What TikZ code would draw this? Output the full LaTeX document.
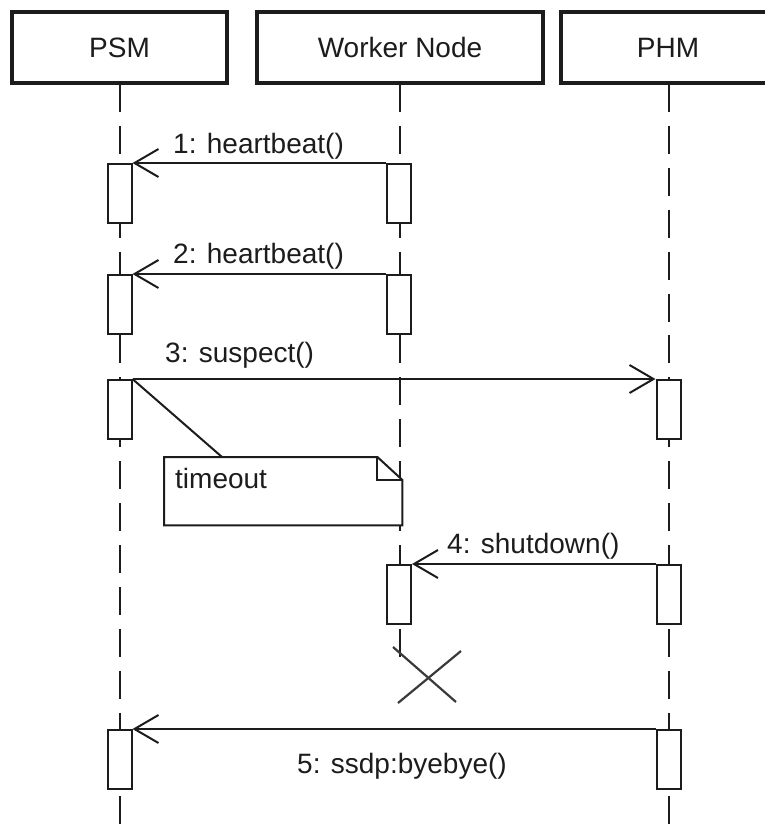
\documentclass[tikz,border=0pt]{standalone}
\usepackage{fontspec}
\setmainfont{Liberation Sans}
\usetikzlibrary{arrows.meta,calc}
\definecolor{ink}{HTML}{1C1C1C}
\definecolor{crossink}{HTML}{3A3A3A}
\begin{document}
\begin{tikzpicture}[x=1pt,y=-1pt,
  every node/.style={font=\fontsize{28}{34}\selectfont, text=ink},
  head/.style={draw=ink, line width=3.2pt, fill=white, minimum height=71pt, inner sep=0pt},
  life/.style={draw=ink, line width=2pt, dash pattern=on 28pt off 13.9pt},
  act/.style={draw=ink, line width=2pt, fill=white, minimum width=24pt, minimum height=59pt, inner sep=0pt, anchor=north},
  msg/.style={draw=ink, line width=2pt, -{Straight Barb[length=24pt,width=28pt]}},
  lbl/.style={anchor=base west, inner sep=0pt},
  notebox/.style={draw=ink, line width=2pt, fill=white},
  link/.style={draw=ink, line width=2pt},
  xmark/.style={draw=crossink, line width=2.2pt}]
\useasboundingbox (0,0) rectangle (764,825);

% lifelines
\draw[life] (119.5,84) -- (119.5,825);
\draw[life] (399.5,84) -- (399.5,657);
\draw[life] (668.5,84) -- (668.5,825);

% participants
\node[head, minimum width=215pt] (psm) at (119.5,47.5) {PSM};
\node[head, minimum width=286pt] (wn)  at (400,47.5)   {Worker Node};
\node[head, minimum width=214pt] (phm) at (668,47.5)   {PHM};

% activations
\node[act] (p1) at (119.5,163) {};
\node[act] (p2) at (119.5,274) {};
\node[act] (p3) at (119.5,379) {};
\node[act] (p4) at (119.5,729) {};
\node[act] (w1) at (399,163) {};
\node[act] (w2) at (399,274) {};
\node[act] (w3) at (399,564) {};
\node[act] (h1) at (668.5,379) {};
\node[act] (h2) at (668.5,564) {};
\node[act] (h3) at (668.5,729) {};

% note attached to the suspect call
\node[minimum width=238pt, minimum height=68pt, inner sep=0pt, anchor=north west] (note) at (164,457) {};
\draw[notebox] (note.north west) -- ([xshift=-25pt]note.north east)
  -- ([yshift=-23pt]note.north east) -- (note.south east) -- (note.south west) -- cycle;
\draw[link] ([xshift=-25pt]note.north east) -- ++(0,23) -- ([yshift=-23pt]note.north east);
\draw[link] (p3.north east) -- ($(note.north west)+(58,0)$);
\node[lbl] (tm) at (175,488) {timeout};

% messages
\draw[msg] (w1.north west) -- (p1.north east);
\draw[msg] (w2.north west) -- (p2.north east);
\draw[msg] (p3.north east) -- (h1.north west);
\draw[msg] (h2.north west) -- (w3.north east);
\draw[msg] (h3.north west) -- (p4.north east);

\node[lbl] (l1) at (173,153) {1: heartbeat()};
\node[lbl] (l2) at (173,263) {2: heartbeat()};
\node[lbl] (l3) at (165,362) {3: suspect()};
\node[lbl] (l4) at (447,553) {4: shutdown()};
\node[anchor=base, inner sep=0pt] (l5) at (402,773) {5: ssdp:byebye()};

% destruction of the worker node
\draw[xmark] (393,647) -- (456,702);
\draw[xmark] (398,703) -- (461,651);
\end{tikzpicture}
\end{document}
